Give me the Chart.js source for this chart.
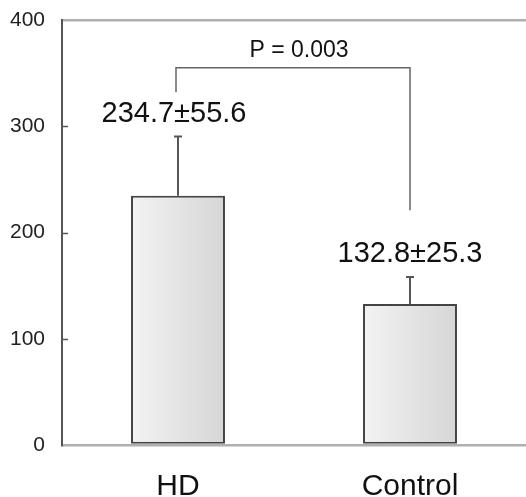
<!DOCTYPE html>
<html>
<head>
<meta charset="utf-8">
<script src="https://cdn.jsdelivr.net/npm/chart.js@4/dist/chart.umd.min.js"></script>
<style>
html,body{margin:0;padding:0;background:#ffffff;}
#wrap{width:526px;height:497px;position:relative;}
</style>
</head>
<body>
<div id="wrap"><canvas id="c" width="526" height="497"></canvas></div>
<script>
// ---- data ----
const categories = ["HD", "Control"];
const means = [234.7, 132.8];
const sds = [55.6, 25.3];
const valueLabels = ["234.7\u00B155.6", "132.8\u00B125.3"];
const yTicks = [0, 100, 200, 300, 400];
const pLabel = "P = 0.003";
// annotation anchors (in data units)
const labelValues = [304, 172];
const bracketLeftBottom = 332;
const bracketTop = 355;
const bracketRightBottom = 221;
const pLabelValue = 365;

const FONT = "'Liberation Sans', Arial, sans-serif";

const decor = {
  id: 'decor',
  afterDatasetsDraw(chart) {
    const ctx = chart.ctx;
    const x = chart.scales.x, y = chart.scales.y;
    const area = chart.chartArea;
    ctx.save();
    // inward ticks on y axis
    ctx.strokeStyle = '#555';
    ctx.lineWidth = 1.5;
    yTicks.forEach(v => {
      const py = Math.round(y.getPixelForValue(v)) + 0.5;
      if (v === 0 || v === 400) return;
      ctx.beginPath();
      ctx.moveTo(area.left, py);
      ctx.lineTo(area.left + 6, py);
      ctx.stroke();
    });
    // error bars
    ctx.strokeStyle = '#555';
    ctx.lineWidth = 2;
    means.forEach((m, i) => {
      const px = x.getPixelForValue(i);
      const top = y.getPixelForValue(m + sds[i]);
      const base = y.getPixelForValue(m);
      ctx.beginPath();
      ctx.moveTo(px, base);
      ctx.lineTo(px, top);
      ctx.moveTo(px - 4, top);
      ctx.lineTo(px + 4, top);
      ctx.stroke();
    });
    // value labels
    ctx.fillStyle = '#111';
    ctx.font = '29px ' + FONT;
    ctx.textAlign = 'center';
    ctx.textBaseline = 'alphabetic';
    valueLabels.forEach((t, i) => {
      const px = x.getPixelForValue(i) + (i === 0 ? -4 : 0);
      ctx.fillText(t, px, y.getPixelForValue(labelValues[i]));
    });
    // bracket
    const lx = x.getPixelForValue(0) - 2;
    const rx = x.getPixelForValue(1);
    ctx.strokeStyle = '#666';
    ctx.lineWidth = 1.5;
    ctx.beginPath();
    ctx.moveTo(lx, y.getPixelForValue(bracketLeftBottom));
    ctx.lineTo(lx, y.getPixelForValue(bracketTop));
    ctx.lineTo(rx, y.getPixelForValue(bracketTop));
    ctx.lineTo(rx, y.getPixelForValue(bracketRightBottom));
    ctx.stroke();
    // p label
    ctx.font = '23px ' + FONT;
    ctx.fillText(pLabel, (lx + rx) / 2 + 6, y.getPixelForValue(pLabelValue));
    ctx.restore();
  }
};

const ctx = document.getElementById('c').getContext('2d');
const chart = new Chart(ctx, {
  type: 'bar',
  data: {
    labels: categories,
    datasets: [{
      data: means,
      backgroundColor: (c) => {
        const ch = c.chart;
        if (!ch.chartArea || !ch.scales || !ch.scales.x) return '#e4e4e4';
        const cx = ch.scales.x.getPixelForValue(c.dataIndex);
        if (!isFinite(cx)) return '#e4e4e4';
        const w = 94;
        const g = ch.ctx.createLinearGradient(cx - w / 2, 0, cx + w / 2, 0);
        g.addColorStop(0, '#f3f3f3');
        g.addColorStop(1, '#d6d6d6');
        return g;
      },
      borderColor: '#444',
      borderWidth: 2,
      borderSkipped: false,
      barPercentage: 0.405,
      categoryPercentage: 1.0
    }]
  },
  options: {
    responsive: false,
    animation: false,
    devicePixelRatio: 1,
    layout: { padding: { top: 20, right: 0, left: 0, bottom: 0 } },
    plugins: { legend: { display: false }, tooltip: { enabled: false } },
    scales: {
      x: {
        grid: { display: false },
        border: { display: false },
        ticks: { color: '#111', font: { size: 30, family: FONT }, padding: 16 },
        afterFit: (s) => { s.height = 52; s.paddingLeft = 0; s.paddingRight = 0; }
      },
      y: {
        min: 0, max: 400,
        afterBuildTicks: (s) => { s.ticks = yTicks.map(v => ({ value: v })); },
        grid: {
          drawTicks: false,
          color: (c) => (c.tick && (c.tick.value === 0 || c.tick.value === 400)) ? '#b0b0b0' : 'rgba(0,0,0,0)',
          lineWidth: 2.5
        },
        border: { display: true, color: '#555', width: 2 },
        ticks: { color: '#222', font: { size: 21, family: FONT }, padding: 17 },
        afterFit: (s) => { s.width = 62; s.paddingTop = 0; s.paddingBottom = 0; }
      }
    }
  },
  plugins: [decor]
});
</script>
</body>
</html>
